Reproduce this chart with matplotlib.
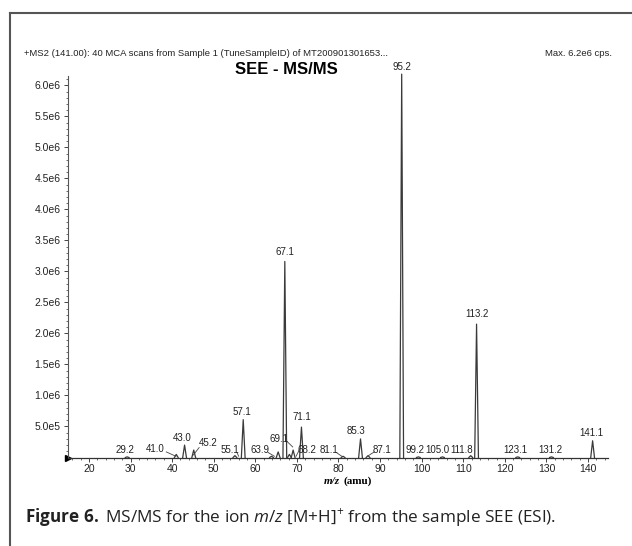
import matplotlib
matplotlib.use('Agg')
import matplotlib.pyplot as plt
from matplotlib.ticker import MultipleLocator, FixedLocator
from matplotlib.lines import Line2D

plt.rcParams['mathtext.fontset'] = 'custom'
plt.rcParams['mathtext.rm'] = 'Open Sans'
plt.rcParams['mathtext.it'] = 'Open Sans:italic'
plt.rcParams['mathtext.bf'] = 'Open Sans:bold'

NARROW = ['Liberation Sans', 'DejaVu Sans']

# peak centres (m/z) and intensities (cps, x1e6)
mz = [29.2, 41.0, 43.0, 45.2, 55.1, 57.1, 63.9, 65.5, 67.1, 68.2, 69.1, 71.1,
      81.1, 85.3, 87.1, 95.2, 99.2, 105.0, 111.8, 113.2, 123.1, 131.2, 141.1]
intensity = [0.01, 0.05, 0.20, 0.12, 0.03, 0.61, 0.02, 0.09, 3.16, 0.05, 0.12, 0.49,
             0.02, 0.30, 0.03, 6.18, 0.01, 0.01, 0.03, 2.15, 0.01, 0.01, 0.27]
labels = ['29.2', '41.0', '43.0', '45.2', '55.1', '57.1', '63.9', None, '67.1', '68.2',
          '69.1', '71.1', '81.1', '85.3', '87.1', '95.2', '99.2', '105.0', '111.8',
          '113.2', '123.1', '131.2', '141.1']

y_ticks = [0.5e6, 1.0e6, 1.5e6, 2.0e6, 2.5e6, 3.0e6, 3.5e6, 4.0e6, 4.5e6, 5.0e6, 5.5e6, 6.0e6]
y_ticklabels = ['5.0e5', '1.0e6', '1.5e6', '2.0e6', '2.5e6', '3.0e6',
                '3.5e6', '4.0e6', '4.5e6', '5.0e6', '5.5e6', '6.0e6']
x_ticks = [20, 30, 40, 50, 60, 70, 80, 90, 100, 110, 120, 130, 140]

# where each label sits (x in m/z, y in cps) and an optional leader line
label_pos = {
    '29.2': (28.7, 0.12e6, None),
    '41.0': (35.9, 0.13e6, (38.6, 0.09e6, 40.9, 0.02e6)),
    '43.0': (42.5, 0.31e6, None),
    '45.2': (48.6, 0.23e6, (46.5, 0.16e6, 45.1, 0.04e6)),
    '55.1': (53.9, 0.12e6, (55.6, 0.08e6, 56.0, 0.02e6)),
    '57.1': (56.9, 0.73e6, None),
    '63.9': (61.1, 0.12e6, (63.1, 0.08e6, 64.6, 0.02e6)),
    '67.1': (67.1, 3.32e6, None),
    '68.2': (72.3, 0.12e6, (70.5, 0.11e6, 69.8, 0.02e6)),
    '69.1': (65.6, 0.30e6, (67.6, 0.26e6, 69.0, 0.17e6)),
    '71.1': (71.2, 0.65e6, None),
    '81.1': (77.7, 0.12e6, (79.5, 0.08e6, 80.8, 0.02e6)),
    '85.3': (84.1, 0.42e6, None),
    '87.1': (90.4, 0.12e6, (88.6, 0.09e6, 87.2, 0.03e6)),
    '95.2': (95.2, 6.30e6, None),
    '99.2': (98.3, 0.12e6, None),
    '105.0': (103.7, 0.12e6, None),
    '111.8': (109.7, 0.12e6, None),
    '113.2': (113.2, 2.31e6, None),
    '123.1': (122.6, 0.12e6, None),
    '131.2': (131.0, 0.12e6, None),
    '141.1': (140.9, 0.40e6, None),
}

fig = plt.figure(figsize=(6.32, 5.46), dpi=100)
ax = fig.add_axes([67.7 / 632, 1 - 457.5 / 546, (608 - 67.7) / 632, (457.5 - 76) / 546])

for c, h in zip(mz, intensity):
    ax.plot([c - 0.45, c, c + 0.45], [0, h * 1e6, 0], color='#3a3a3a', lw=0.9,
            clip_on=False)

for lab, c, h in zip(labels, mz, intensity):
    if lab is None:
        continue
    lx, ly, lead = label_pos[lab]
    ax.text(lx, ly, lab, ha='center', va='center', fontsize=7, family=NARROW,
            color='#222222', clip_on=False)
    if lead is not None:
        ax.plot([lead[0], lead[2]], [lead[1], lead[3]], color='#444444', lw=0.6,
                clip_on=False)

ax.set_xlim(14.9, 144.8)
ax.set_ylim(0, 6.15e6)
ax.spines['top'].set_visible(False)
ax.spines['right'].set_visible(False)
ax.spines['left'].set_color('#555555')
ax.spines['bottom'].set_color('#333333')
ax.spines['left'].set_linewidth(0.8)
ax.spines['bottom'].set_linewidth(0.9)

ax.yaxis.set_major_locator(FixedLocator(y_ticks))
ax.set_yticklabels(y_ticklabels)
ax.yaxis.set_minor_locator(MultipleLocator(0.1e6))
ax.xaxis.set_major_locator(FixedLocator(x_ticks))
ax.xaxis.set_minor_locator(MultipleLocator(2))
ax.tick_params(which='major', length=3, width=0.7, color='#444444', labelsize=7.5,
               labelcolor='#222222', pad=2)
ax.tick_params(which='minor', length=1.5, width=0.6, color='#555555')
for t in ax.get_xticklabels() + ax.get_yticklabels():
    t.set_family(NARROW)

# little origin marker
ax.plot([14.9], [0], marker='>', color='black', markersize=4, clip_on=False)

# axis label
fig.text(340 / 632, 1 - 481 / 546, 'm/z', ha='right', va='center', fontsize=8,
         family='Liberation Serif', weight='bold', style='italic')
fig.text(343 / 632, 1 - 481 / 546, '(amu)', ha='left', va='center', fontsize=8,
         family='Liberation Serif', weight='bold')

# header texts
fig.text(24 / 632, 1 - 53 / 546,
         '+MS2 (141.00): 40 MCA scans from Sample 1 (TuneSampleID) of MT200901301653...',
         ha='left', va='center', fontsize=6.8, family=NARROW, color='#222222')
fig.text(612 / 632, 1 - 53 / 546, 'Max. 6.2e6 cps.', ha='right', va='center',
         fontsize=6.8, family=NARROW, color='#222222')
fig.text(286 / 632, 1 - 70 / 546, 'SEE - MS/MS', ha='center', va='center',
         fontsize=12, family='Liberation Sans', weight='bold')

# caption
fig.text(25 / 632, 1 - 517 / 546,
         r'$\mathbf{Figure\ 6.}$ MS/MS for the ion $m/z$ [M+H]$^{+}$ from the sample SEE (ESI).',
         ha='left', va='center', fontsize=12.3, family='Open Sans', color='#222222')

# frame lines of the figure box
fig.add_artist(Line2D([9.5 / 632, 9.5 / 632], [0, 1 - 13 / 546], color='#555555',
                      lw=1.5, transform=fig.transFigure))
fig.add_artist(Line2D([9.5 / 632, 1], [1 - 13 / 546, 1 - 13 / 546], color='#555555',
                      lw=1.5, transform=fig.transFigure))

fig.savefig('out.png', dpi=100)
